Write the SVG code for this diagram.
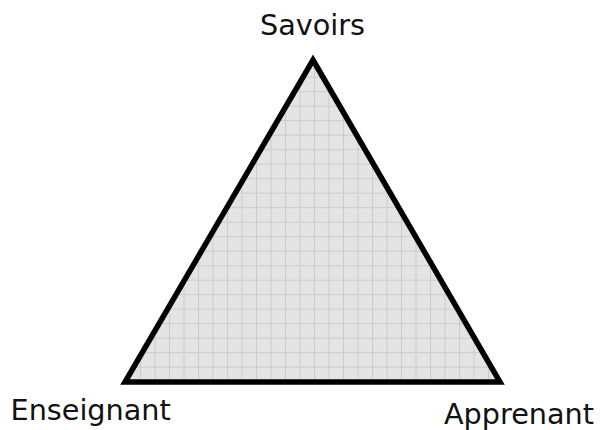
<svg xmlns="http://www.w3.org/2000/svg" width="600" height="430" viewBox="0 0 600 430">
  <style>
    .lbl { font-family: "DejaVu Sans", Verdana, sans-serif; font-size: 28.7px; fill: #111; }
    .tri { fill: url(#grid); stroke: #000; stroke-width: 5.5; stroke-linejoin: miter; }
  </style>
  <defs>
    <pattern id="grid" patternUnits="userSpaceOnUse" x="314" y="366.7" width="14.5" height="14.5">
      <rect width="14.5" height="14.5" fill="#e4e4e4"/>
      <path d="M0 0.5 H14.5 M0.5 0 V14.5" stroke="#cbcbcb" stroke-width="1" fill="none"/>
    </pattern>
  </defs>
  <g id="triangle">
    <polygon class="tri" points="313,60 500,382 125,382"/>
  </g>
  <g id="savoirs">
    <text class="lbl" x="312.5" y="34.5" text-anchor="middle">Savoirs</text>
  </g>
  <g id="enseignant">
    <text class="lbl" x="10.5" y="419.5">Enseignant</text>
  </g>
  <g id="apprenant">
    <text class="lbl" x="444" y="423.5">Apprenant</text>
  </g>
</svg>
